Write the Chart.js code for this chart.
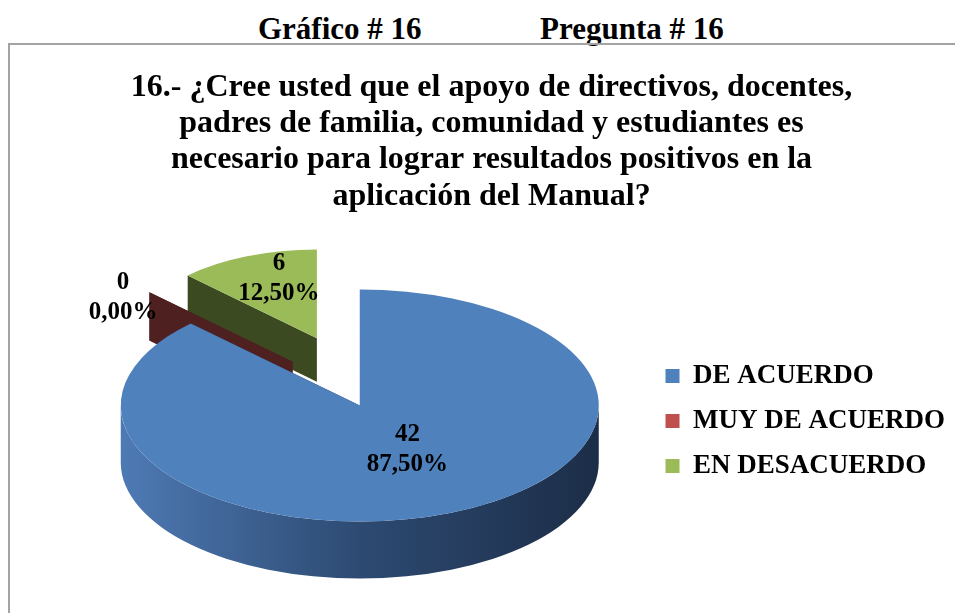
<!DOCTYPE html>
<html>
<head>
<meta charset="utf-8">
<script src="https://cdn.jsdelivr.net/npm/chart.js@4.4.1/dist/chart.umd.min.js"></script>
<style>
  html, body { margin: 0; padding: 0; background: #fff; width: 955px; height: 613px; overflow: hidden; }
  .head { position: absolute; top: 13px; font: bold 31px "Liberation Serif", "Times New Roman", serif; line-height: 31px; color: #000; white-space: nowrap; }
  #frame { position: absolute; left: 8px; top: 43px; width: 1000px; height: 700px; border-left: 2px solid #a3a3a3; border-top: 2px solid #a3a3a3; }
  #chart { position: absolute; left: 0; top: 0; }
</style>
</head>
<body>
<div class="head" style="left:258px">Gráfico # 16</div>
<div class="head" style="left:540px">Pregunta # 16</div>
<div id="frame"></div>
<canvas id="chart" width="955" height="613"></canvas>
<script>
const SERIF = '"Liberation Serif", "Times New Roman", serif';

const titleLines = [
  '16.- ¿Cree usted que el apoyo de directivos, docentes,',
  'padres de familia, comunidad y estudiantes es',
  'necesario para lograr resultados positivos en la',
  'aplicación del Manual?',
];
const categories = ['DE ACUERDO', 'MUY DE ACUERDO', 'EN DESACUERDO'];
const counts = [42, 0, 6];

const sliceColors = ['#4f81bd', '#c0504d', '#9bbb59'];
const cutColors = ['#223759', '#4f2020', '#3c4a22'];
const wallColors = [['#4e7ab4', '#2d4a72', '#1c2d47'], ['#6e2a28', '#5a2221', '#451a19'], ['#6b8a3a', '#56702f', '#3c4a22']];

// 3d look: pie is squashed into an ellipse, slices pulled out, side walls drawn below
const PIE3D = {
  radiusX: 239,
  radiusY: 116,
  depth: 57,
  shiftX: 22,
  shiftY: -14,
  explode: [0, 95, 112],
  explodeTilt: 0.65,
  perspective: 0.0035,
  labelR: [0.5, 1.1, 0.6],
  labelShift: [[2, -9], [-12, 12], [4, -10]],
  labelGap: 30,
};

const total = counts.reduce((a, b) => a + b, 0);
const pct = v => (v / total * 100).toFixed(2).replace('.', ',') + '%';

const pie3d = {
  id: 'pie3d',
  beforeDatasetsDraw(chart) {
    const { ctx } = chart;
    const arcs = chart.getDatasetMeta(0).data;
    const R = arcs[0].outerRadius;
    const sx = PIE3D.radiusX / R;
    const sy = PIE3D.radiusY / R;

    const parts = arcs.map((arc, i) => {
      const mid = (arc.startAngle + arc.endAngle) / 2;
      const d = PIE3D.explode[i];
      const ex = Math.cos(mid) * d;
      const ey = Math.sin(mid) * d * PIE3D.explodeTilt;
      const s = 1 + PIE3D.perspective * ey;
      return { arc, i, mid, s, cx: arc.x + PIE3D.shiftX + ex, cy: arc.y + PIE3D.shiftY + ey };
    });

    // back to front
    parts.slice().sort((a, b) => a.cy - b.cy).forEach((p) => {
      const rx = PIE3D.radiusX * p.s;
      const ry = PIE3D.radiusY * p.s;
      const depth = PIE3D.depth * p.s;

      ctx.fillStyle = cutColors[p.i];
      [p.arc.startAngle, p.arc.endAngle].forEach((a) => {
        const px = p.cx + Math.cos(a) * rx;
        const py = p.cy + Math.sin(a) * ry;
        ctx.beginPath();
        ctx.moveTo(p.cx, p.cy);
        ctx.lineTo(px, py);
        ctx.lineTo(px, py + depth);
        ctx.lineTo(p.cx, p.cy + depth);
        ctx.closePath();
        ctx.fill();
      });

      for (let k = -1; k <= 1; k++) {
        const lo = Math.max(p.arc.startAngle, k * 2 * Math.PI);
        const hi = Math.min(p.arc.endAngle, k * 2 * Math.PI + Math.PI);
        if (hi <= lo) continue;
        const g = ctx.createLinearGradient(p.cx - rx, 0, p.cx + rx, 0);
        wallColors[p.i].forEach((c, j, all) => g.addColorStop(j / (all.length - 1), c));
        ctx.fillStyle = g;
        ctx.beginPath();
        ctx.ellipse(p.cx, p.cy, rx, ry, 0, lo, hi);
        ctx.ellipse(p.cx, p.cy + depth, rx, ry, 0, hi, lo, true);
        ctx.closePath();
        ctx.fill();
      }

      ctx.save();
      ctx.translate(p.cx, p.cy);
      ctx.scale(sx * p.s, sy * p.s);
      ctx.translate(-p.arc.x, -p.arc.y);
      p.arc.draw(ctx);
      ctx.restore();
    });

    ctx.save();
    ctx.fillStyle = '#000';
    ctx.font = 'bold 25px ' + SERIF;
    ctx.textAlign = 'center';
    ctx.textBaseline = 'middle';
    parts.forEach((p) => {
      const f = PIE3D.labelR[p.i];
      const [dx, dy] = PIE3D.labelShift[p.i];
      const lx = p.cx + Math.cos(p.mid) * PIE3D.radiusX * p.s * f + dx;
      const ly = p.cy + Math.sin(p.mid) * PIE3D.radiusY * p.s * f + dy;
      ctx.fillText(String(counts[p.i]), lx, ly - PIE3D.labelGap / 2);
      ctx.fillText(pct(counts[p.i]), lx, ly + PIE3D.labelGap / 2);
    });
    ctx.restore();
    return false;
  },
};

new Chart(document.getElementById('chart'), {
  type: 'pie',
  data: {
    labels: categories,
    datasets: [{
      data: counts,
      backgroundColor: sliceColors,
      borderWidth: 0,
      hoverOffset: 0,
    }],
  },
  options: {
    responsive: false,
    animation: false,
    events: [],
    layout: { padding: { left: 28, right: 0, top: 0, bottom: 0 } },
    plugins: {
      title: {
        display: true,
        text: titleLines,
        color: '#000',
        font: { family: SERIF, size: 32, weight: 'bold', lineHeight: 1.14 },
        padding: { top: 69, bottom: 11 },
      },
      legend: {
        position: 'right',
        // empty title only pushes the (centred) items down
        title: {
          display: true,
          text: ' ',
          font: { size: 10 },
          padding: { top: 217, bottom: 0 },
        },
        labels: {
          color: '#000',
          font: { family: SERIF, size: 27, weight: 'bold' },
          boxWidth: 14,
          boxHeight: 14,
          padding: 18,
        },
      },
      tooltip: { enabled: false },
    },
  },
  plugins: [pie3d],
});
</script>
</body>
</html>
